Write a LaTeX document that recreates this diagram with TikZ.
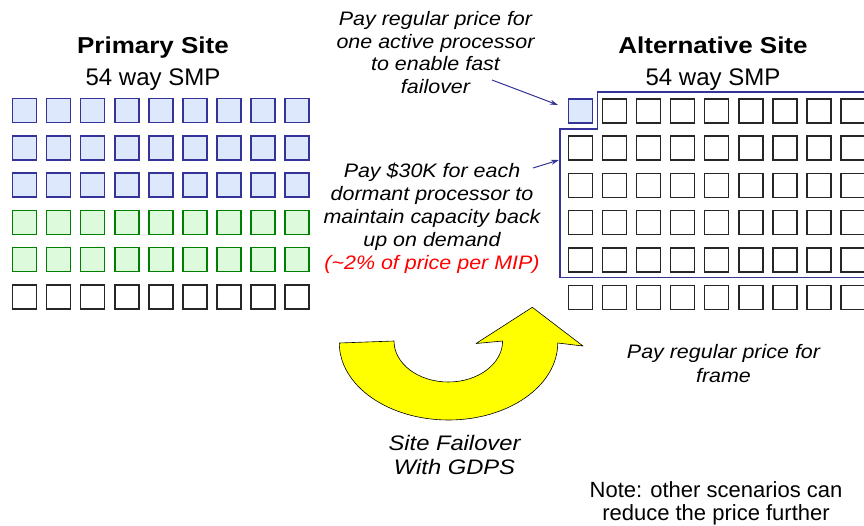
\documentclass[tikz,border=0pt]{standalone}
\usepackage{fontspec}
\setmainfont{Liberation Sans}
\newfontfamily\widefont[FakeStretch=1.1]{Liberation Sans}
\newfontfamily\widerfont[FakeStretch=1.13]{Liberation Sans}
\usetikzlibrary{arrows.meta}
\definecolor{navy}{HTML}{333399}
\definecolor{lblue}{HTML}{DDE8FC}
\definecolor{dgreen}{HTML}{008000}
\definecolor{lgreen}{HTML}{DDFADD}
\definecolor{ayellow}{HTML}{FFFF00}
\definecolor{pricered}{HTML}{FF0000}
\begin{document}
\begin{tikzpicture}[x=1pt,y=-1pt,
  cpu/.style={draw, line width=1.4pt, minimum size=24pt, inner sep=0pt, fill=white},
  cpublue/.style={cpu, draw=navy, fill=lblue},
  cpugreen/.style={cpu, draw=dgreen, fill=lgreen},
  cpuwhite/.style={cpu, draw=black!85},
  txt/.style={anchor=base, inner sep=0pt},
  sitetitle/.style={txt, font=\widerfont\bfseries\fontsize{23}{26}\selectfont},
  smp/.style={txt, font=\fontsize{24}{27}\selectfont},
  notetxt/.style={txt, font=\widefont\itshape\fontsize{19.5}{22}\selectfont},
  failtxt/.style={txt, font=\widerfont\itshape\fontsize{21}{24}\selectfont},
  plaintxt/.style={txt, font=\fontsize{22}{25}\selectfont},
  pointer/.style={navy, line width=1pt, -{Stealth[length=8pt,width=5pt]}},
  outline/.style={navy, line width=1.6pt},
  bigarrow/.style={fill=ayellow, draw=black, line width=0.6pt, line join=round}
]
\useasboundingbox (0,0) rectangle (864,525);

% ---- titles
\node[sitetitle] (ptitle) at (153,53) {Primary Site};
\node[smp] (psmp) at (153,85) {54 way SMP};
\node[sitetitle] (atitle) at (713,53) {Alternative Site};
\node[smp] (asmp) at (713,85) {54 way SMP};

% ---- primary site grid
\foreach \r in {1,2,3}
  \foreach \c in {1,...,9}
    \node[cpublue] (L-\r-\c) at ({24.7+34.04*(\c-1)},{110.5+37.3*(\r-1)}) {};
\foreach \r in {4,5}
  \foreach \c in {1,...,9}
    \node[cpugreen] (L-\r-\c) at ({24.7+34.04*(\c-1)},{110.5+37.3*(\r-1)}) {};
\foreach \c in {1,...,9}
  \node[cpuwhite] (L-6-\c) at ({24.7+34.04*(\c-1)},{110.5+37.3*5}) {};

% ---- alternative site grid
\node[cpublue] (R-1-1) at (580.3,110.8) {};
\foreach \c in {2,...,9}
  \node[cpuwhite] (R-1-\c) at ({580.3+34.1*(\c-1)},110.8) {};
\foreach \r in {2,...,6}
  \foreach \c in {1,...,9}
    \node[cpuwhite] (R-\r-\c) at ({580.3+34.1*(\c-1)},{110.8+37.3*(\r-1)}) {};

% ---- dormant capacity outline
\draw[outline] (866,92) -- (597.3,92) -- (597.3,129) -- (560,129) -- (560,277.3) -- (866,277.3);

% ---- annotation texts
\node[notetxt] (n1a) at (435.5,25.5) {Pay regular price for};
\node[notetxt] (n1b) at (435.5,48.2) {one active processor};
\node[notetxt] (n1c) at (435.5,70.9) {to enable fast};
\node[notetxt] (n1d) at (435.5,93.6) {failover};

\node[notetxt] (n2a) at (432,177) {Pay \$30K for each};
\node[notetxt] (n2b) at (432,200) {dormant processor to};
\node[notetxt] (n2c) at (432,223) {maintain capacity back};
\node[notetxt] (n2d) at (432,246) {up on demand};
\node[notetxt, text=pricered] (n2e) at (432,269) {(\textasciitilde 2\% of price per MIP)};

\node[notetxt] (n3a) at (723.5,358) {Pay regular price for};
\node[notetxt] (n3b) at (723.5,382) {frame};

\node[failtxt] (f1) at (454.5,450) {Site Failover};
\node[failtxt] (f2) at (454.5,474.5) {With GDPS};

\node[plaintxt] (nt1) at (716,497) {Note: other scenarios can};
\node[plaintxt] (nt2) at (716,520.5) {reduce the price further};

% ---- pointers
\coordinate (p1) at (492,80);
\coordinate (q1) at (558,105);
\coordinate (p2) at (533,168);
\coordinate (q2) at (559,160);
\draw[pointer] (p1) -- (q1);
\draw[pointer] (p2) -- (q2);

% ---- failover arrow
\draw[bigarrow] (394,341)
  arc[start angle=180, end angle=0, x radius=54.3, y radius=41]
  -- (476,343.5) -- (532.3,307.3) -- (583,346) -- (557.7,343)
  arc[start angle=0, end angle=180, x radius=109.2, y radius=77]
  -- cycle;
\end{tikzpicture}
\end{document}
